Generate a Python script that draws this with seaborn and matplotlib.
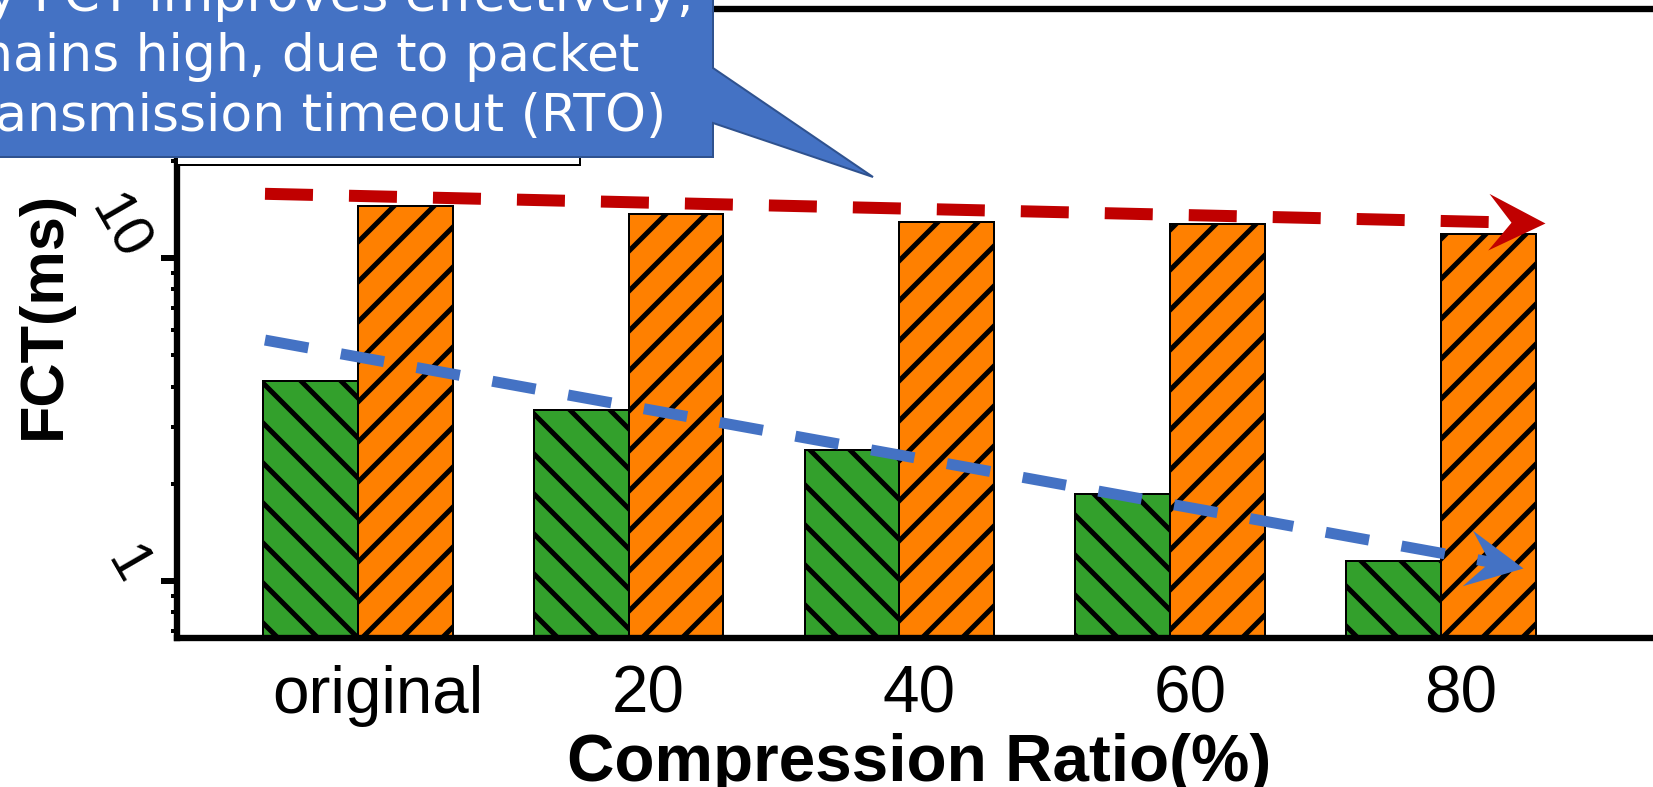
import numpy as np
import pandas as pd
import matplotlib
matplotlib.use("Agg")
import matplotlib.pyplot as plt
import matplotlib.ticker as mticker
from matplotlib.path import Path
from matplotlib.markers import MarkerStyle
from matplotlib.transforms import Affine2D, ScaledTranslation
from matplotlib.patches import Polygon
import seaborn as sns

# data
ratios = ["original", "20", "40", "60", "80"]
avg_fct = [4.16, 3.38, 2.54, 1.86, 1.155]
tail_fct = [14.5, 13.7, 12.9, 12.7, 11.9]
series_names = ["Avg FCT", "Tail FCT"]
colors = ["#33A02C", "#FF8000"]
hatches = ["\\\\", "//"]

# trend arrows (x in category units, y in ms)
red_trend_x = [-0.343, 4.384]
red_trend_y = [15.8, 12.8]
blue_trend_x = [-0.343, 4.303]
blue_trend_y = [5.57, 1.097]

callout_lines = [
    "Clearly FCT improves effectively,",
    "but tail FCT remains high, due to packet",
    "retransmission timeout (RTO)",
]

df = pd.DataFrame({
    "ratio": ratios * 2,
    "fct": avg_fct + tail_fct,
    "series": [series_names[0]] * len(ratios) + [series_names[1]] * len(ratios),
})

sns.set_style("ticks")
plt.rcParams["font.family"] = ["Liberation Sans", "DejaVu Sans"]
plt.rcParams["hatch.linewidth"] = 1.5
for k in ["text.color", "axes.labelcolor", "xtick.color", "ytick.color"]:
    plt.rcParams[k] = "black"

W, H, DPI = 1653, 787, 240
fig = plt.figure(figsize=(W / DPI, H / DPI), dpi=DPI)
ax = fig.add_axes([177 / W, (H - 638) / H, 1484 / W, 629.5 / H])

sns.barplot(data=df, x="ratio", y="fct", hue="series", palette=colors,
            saturation=1, width=0.7, edgecolor="black", linewidth=0.6,
            legend=False, ax=ax)
ax.set_yscale("log")

for cont, h in zip(ax.containers, hatches):
    for bar in cont:
        bar.set_hatch(h)

ax.set_xlim(-0.668, 4.813)
ax.set_ylim(0.666, 59.2)

for side in ["left", "bottom", "top", "right"]:
    ax.spines[side].set_linewidth(1.9)
    ax.spines[side].set_color("black")

ax.yaxis.set_major_locator(mticker.FixedLocator([1, 10]))
ax.yaxis.set_major_formatter(mticker.FuncFormatter(lambda v, _: f"{v:g}"))
ax.yaxis.set_minor_formatter(mticker.NullFormatter())
ax.tick_params(axis="y", which="major", length=4.8, width=1.8, pad=1, labelsize=17.5)
ax.tick_params(axis="y", which="minor", length=1.8, width=1.2)
ax.tick_params(axis="x", length=0, pad=8, labelsize=19.7)
for lab in ax.get_yticklabels():
    lab.set_rotation(-60)
    lab.set_va("baseline")
    lab.set_ha("right")
shift = ScaledTranslation(20 / DPI, 0, fig.dpi_scale_trans)
for lab in ax.get_xticklabels():
    lab.set_transform(lab.get_transform() + shift)

ax.set_xlabel("Compression Ratio(%)", fontsize=19.7, fontweight="bold", labelpad=2)
ax.set_ylabel("FCT(ms)", fontsize=18.4, fontweight="bold")
ax.yaxis.set_label_coords(-0.0704, 0.513)

# legend box: its entries sit under the callout in the original
handles = [plt.Rectangle((0, 0), 1, 1, facecolor=c, edgecolor="black", hatch=h, lw=0.6)
           for c, h in zip(colors, hatches)]
leg = ax.legend(handles, series_names, loc="lower left", mode="expand", ncol=2,
                bbox_to_anchor=(177 / W, (H - 165) / H, 403 / W, 0.1),
                bbox_transform=fig.transFigure, borderaxespad=0, fancybox=False,
                edgecolor="black", framealpha=1, fontsize=16)
leg.get_frame().set_linewidth(0.6)
for t in leg.get_texts():
    t.set_visible(False)


# dashed trend arrows with stealth heads
def stealth(ax, xs, ys, color, lw, ms=34):
    p0 = ax.transData.transform((xs[0], ys[0]))
    p1 = ax.transData.transform((xs[-1], ys[-1]))
    d = (p1 - p0) / np.hypot(*(p1 - p0))
    ang = np.degrees(np.arctan2(d[1], d[0]))
    notch = p1 - d * (0.28 * ms * DPI / 72)
    end = ax.transData.inverted().transform(notch)
    ax.plot([xs[0], end[0]], [ys[0], end[1]], color=color, lw=lw, ls=(0, (4, 3)),
            dash_capstyle="butt", zorder=4, clip_on=False)
    verts = [(0, 0), (-1, 0.5), (-0.6, 0), (-1, -0.5), (0, 0)]
    codes = [Path.MOVETO, Path.LINETO, Path.LINETO, Path.LINETO, Path.CLOSEPOLY]
    m = MarkerStyle(Path(verts, codes), transform=Affine2D().rotate_deg(ang))
    ax.plot([xs[-1]], [ys[-1]], marker=m, markersize=ms, color=color,
            markeredgewidth=0, ls="none", zorder=5, clip_on=False)


stealth(ax, red_trend_x, red_trend_y, "#C00000", 3.6)
stealth(ax, blue_trend_x, blue_trend_y, "#4472C4", 3.3)


# callout box
def fp(x, y):
    return (x / W, 1 - y / H)


call = Polygon([fp(-10, -10), fp(713, -10), fp(713, 68), fp(873, 177),
                fp(713, 123), fp(713, 157), fp(-10, 157)],
               closed=True, facecolor="#4472C4", edgecolor="#2F528F", lw=0.6,
               transform=fig.transFigure, zorder=10)
fig.add_artist(call)
for line, xr, yb in zip(callout_lines, [694, 639, 666], [11, 71, 130.5]):
    fig.text(xr / W, 1 - yb / H, line, ha="right", va="baseline", color="white",
             fontsize=15.6, family=["DejaVu Sans"], zorder=11)

fig.savefig("out.png", dpi=DPI)
